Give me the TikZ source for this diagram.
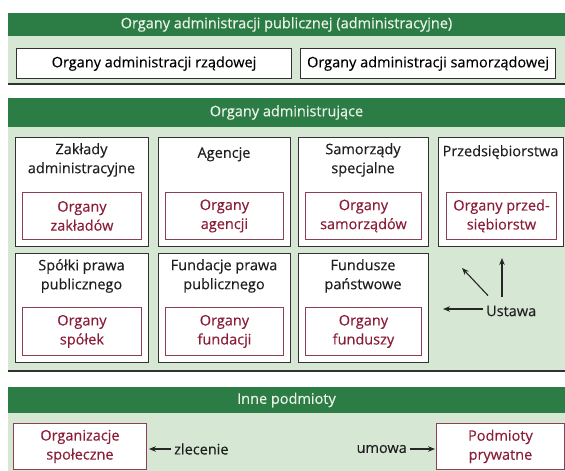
\documentclass[tikz,border=0pt]{standalone}
\usepackage{fontspec}
\setmainfont{Open Sans}[FakeBold=0.3]
\usetikzlibrary{arrows.meta}
\definecolor{hdrgreen}{RGB}{44,124,70}
\definecolor{hdrtext}{RGB}{236,244,232}
\definecolor{panelgreen}{RGB}{214,231,212}
\definecolor{maroonc}{RGB}{138,30,56}
\definecolor{innerline}{RGB}{140,64,84}
\definecolor{boxline}{RGB}{50,50,50}
\begin{document}
\begin{tikzpicture}[x=1pt,y=-1pt,
  font=\fontsize{14.5}{19}\selectfont,
  header/.style={fill=hdrgreen, text=hdrtext, anchor=north west, minimum width=557pt, inner sep=0pt, outer sep=0pt},
  panel/.style={fill=panelgreen, anchor=north west, minimum width=557pt, inner sep=0pt, outer sep=0pt},
  shadowline/.style={draw=boxline, line width=1.3pt},
  outerbox/.style={draw=boxline, fill=white, line width=1.1pt, anchor=north west, inner sep=0pt},
  innerbox/.style={draw=innerline, fill=white, line width=0.9pt, anchor=north west, inner sep=0pt, text=maroonc, align=center},
  title/.style={anchor=north, align=center, inner sep=0pt, text=black!88},
  arr/.style={-{Stealth[length=7pt,width=5.5pt]}, line width=1.1pt, draw=black!85},
  lbl/.style={text=black!88, inner sep=3pt}
]
\useasboundingbox (0,0) rectangle (565,471);
\fill[white] (0,0) rectangle (565,471);

% ---------- Section 1 ----------
\node[panel, minimum height=49pt] (p1) at (8,35) {};
\node[header, minimum height=23pt] (h1) at (8,13) {Organy administracji publicznej (administracyjne)};
\draw[shadowline] (p1.south west) -- (p1.south east);
\node[outerbox, minimum width=275pt, minimum height=30pt] (rz) at (16,48) {Organy administracji rządowej};
\node[outerbox, minimum width=255pt, minimum height=30pt] (sam) at (300,48) {Organy administracji samorządowej};

% ---------- Section 2 ----------
\node[panel, minimum height=244pt] (p2) at (8,127) {};
\node[header, minimum height=29pt] (h2) at (8,98) {Organy administrujące};
\draw[shadowline] (p2.south west) -- (p2.south east);

% row 1
\node[outerbox, minimum width=133pt, minimum height=109pt] (b1) at (15,137) {};
\node[outerbox, minimum width=132pt, minimum height=109pt] (b2) at (158,137) {};
\node[outerbox, minimum width=130pt, minimum height=109pt] (b3) at (298,137) {};
\node[outerbox, minimum width=125pt, minimum height=109pt] (b4) at (438,137) {};
\node[title] (t1) at (81.5,143) {Zakłady\\administracyjne};
\node[title] (t2) at (224,147) {Agencje};
\node[title] (t3) at (363,143) {Samorządy\\specjalne};
\node[title] (t4) at (500.5,145) {Przedsiębiorstwa};
\node[innerbox, minimum width=119pt, minimum height=47pt] (i1) at (22,192) {Organy\\zakładów};
\node[innerbox, minimum width=118pt, minimum height=47pt] (i2) at (165,192) {Organy\\agencji};
\node[innerbox, minimum width=116pt, minimum height=47pt] (i3) at (305,192) {Organy\\samorządów};
\node[innerbox, minimum width=110pt, minimum height=47pt] (i4) at (446,192) {Organy przed-\\siębiorstw};

% row 2
\node[outerbox, minimum width=133pt, minimum height=109pt] (b5) at (15,253) {};
\node[outerbox, minimum width=132pt, minimum height=109pt] (b6) at (158,253) {};
\node[outerbox, minimum width=130pt, minimum height=109pt] (b7) at (298,253) {};
\node[title] (t5) at (81.5,259) {Spółki prawa\\publicznego};
\node[title] (t6) at (224,259) {Fundacje prawa\\publicznego};
\node[title] (t7) at (363,259) {Fundusze\\państwowe};
\node[innerbox, minimum width=119pt, minimum height=48pt] (i5) at (22,307) {Organy\\spółek};
\node[innerbox, minimum width=118pt, minimum height=48pt] (i6) at (165,307) {Organy\\fundacji};
\node[innerbox, minimum width=116pt, minimum height=48pt] (i7) at (305,307) {Organy\\funduszy};

% Ustawa
\node[lbl, anchor=west] (ust) at (483,311) {Ustawa};
\coordinate (tL) at (443,309);
\coordinate (tU) at (502,258);
\coordinate (tD) at (462,268);
\draw[arr] (ust.west |- tL) -- (tL);
\draw[arr] ([yshift=6pt]ust.north -| tU) -- (tU);
\draw[arr] ([xshift=5pt,yshift=7pt]ust.north west) -- (tD);

% ---------- Section 3 ----------
\node[panel, minimum height=58pt] (p3) at (8,413) {};
\node[header, minimum height=26pt] (h3) at (8,387) {Inne podmioty};
\node[innerbox, minimum width=133pt, minimum height=46pt] (org) at (13,423) {Organizacje\\społeczne};
\node[innerbox, minimum width=128pt, minimum height=46pt] (pod) at (436,423) {Podmioty\\prywatne};
\node[lbl, anchor=west] (zl) at (171,449) {zlecenie};
\node[lbl, anchor=east] (um) at (410,449) {umowa};
\draw[arr] (zl.west) -- ([xshift=2pt]org.east |- zl.west);
\draw[arr] (um.east) -- ([xshift=-1pt]pod.west |- um.east);
\end{tikzpicture}
\end{document}
